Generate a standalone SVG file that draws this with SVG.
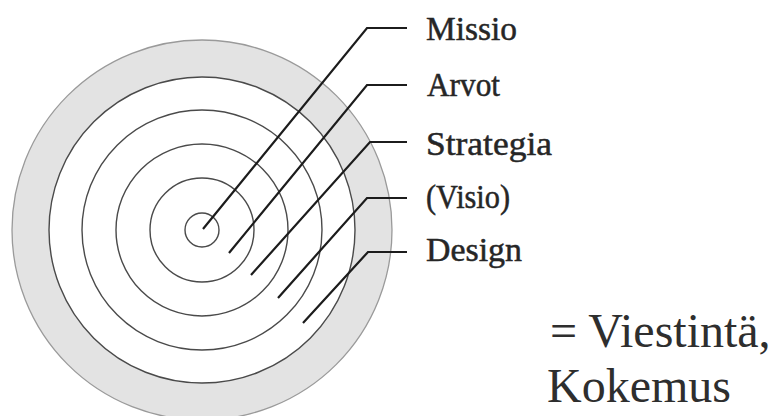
<svg xmlns="http://www.w3.org/2000/svg" width="783" height="416" viewBox="0 0 783 416">
<style>
.ring{fill:none;stroke:#4a4a4a;stroke-width:1.4}
.lead{fill:none;stroke:#1c1c1c;stroke-width:2.2;stroke-linejoin:miter}
.lbl{font-family:"Liberation Serif","DejaVu Serif",serif;font-size:34px;fill:#262626;stroke:#262626;stroke-width:0.5}
.big{font-family:"Liberation Serif","DejaVu Serif",serif;font-size:48px;fill:#2e2e2e}
</style>
<rect width="783" height="416" fill="#ffffff"/>
<g id="outer-ring">
<circle cx="202" cy="230" r="190" fill="#e3e3e3" stroke="#9a9a9a" stroke-width="1.3"/>
<circle cx="202" cy="230" r="153" fill="#ffffff" stroke="#4a4a4a" stroke-width="1.4"/>
</g>
<g id="ring-design"><circle class="ring" cx="202" cy="230" r="120"/></g>
<g id="ring-visio"><circle class="ring" cx="202" cy="230" r="86"/></g>
<g id="ring-strategia"><circle class="ring" cx="202" cy="230" r="52"/></g>
<g id="ring-missio"><circle class="ring" cx="202" cy="230" r="17"/></g>
<g id="connectors">
<polyline class="lead" points="203,229 367,28 407,28"/>
<polyline class="lead" points="229,253 367,85 407,85"/>
<polyline class="lead" points="251,275 370,142 407,142"/>
<polyline class="lead" points="278,298 367,198 407,198"/>
<polyline class="lead" points="303,323 368,252 407,252"/>
</g>
<g id="label-missio"><text class="lbl" x="426" y="40" textLength="91" lengthAdjust="spacingAndGlyphs">Missio</text></g>
<g id="label-arvot"><text class="lbl" x="427" y="96" textLength="73" lengthAdjust="spacingAndGlyphs">Arvot</text></g>
<g id="label-strategia"><text class="lbl" x="426" y="155" textLength="126" lengthAdjust="spacingAndGlyphs">Strategia</text></g>
<g id="label-visio"><text class="lbl" x="426" y="208" textLength="84" lengthAdjust="spacingAndGlyphs">(Visio)</text></g>
<g id="label-design"><text class="lbl" x="426" y="261" textLength="96" lengthAdjust="spacingAndGlyphs">Design</text></g>
<g id="summary">
<text class="big" x="550" y="347">= Viestintä,</text>
<text class="big" x="547" y="402">Kokemus</text>
</g>
</svg>
